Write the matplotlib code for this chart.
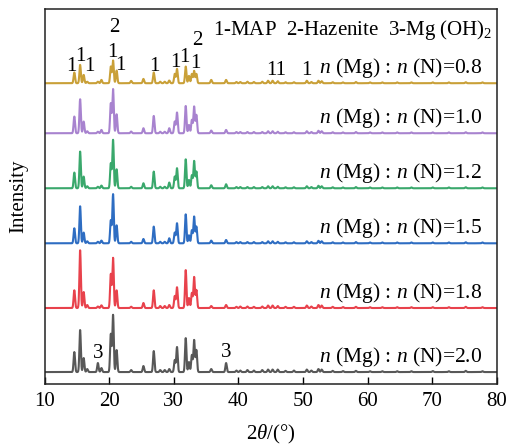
import numpy as np
import matplotlib
matplotlib.use("Agg")
import matplotlib.pyplot as plt

plt.rcParams["font.family"] = ["Liberation Serif", "DejaVu Serif"]
plt.rcParams["mathtext.fontset"] = "custom"
plt.rcParams["mathtext.rm"] = "Liberation Serif"
plt.rcParams["mathtext.it"] = "Liberation Serif:italic"

# peak positions (2theta, deg)
peak_pos = [14.6, 15.5, 16.05, 16.6, 18.25, 18.8, 20.25, 20.6, 21.15, 23.4,
            25.3, 26.9, 27.9, 28.6, 29.3, 30.15, 30.5, 31.85, 32.35, 32.8,
            33.15, 33.5, 35.8, 38.1,
            39.7, 40.3, 41.4, 42.4, 43.7, 44.6, 45.3, 46.1, 47.3, 48.6,
            50.6, 51.3, 52.4, 52.9, 54.6, 56.2, 58.2, 60.4, 62.3, 64.6,
            66.8, 70.1, 72.6, 75.2, 77.8]

ratios = ["0.8", "1.0", "1.2", "1.5", "1.8", "2.0"]

h_08 = [10.7, 18.3, 8.3, 1.5, 1.5, 3.3, 16.7, 22.7, 12.7, 2.3,
        4.3, 10.7, 1.5, 1.5, 2.7, 9.3, 14.3, 16.7, 7.3, 9.3,
        12.3, 9.3, 3.3, 3.3,
        1.2, 1.2, 1.5, 1.2, 1.5, 2.5, 2.5, 2, 1, 1,
        2.5, 1.2, 2.5, 2, 1, 0.8, 1.2, 0.8, 0.8, 0.8,
        0.8, 0.8, 0.8, 1, 0.8]
h_10 = [16.7, 34, 11.7, 2, 1.5, 3.3, 30, 44, 19, 1.7,
        5, 17.3, 1.5, 1.5, 5, 11.7, 20.7, 27.3, 8.3, 13.3,
        26.7, 18.3, 2.7, 3.3,
        1.2, 1.2, 1.2, 1.2, 1.2, 2, 2, 1.5, 1, 1,
        2, 1.2, 2.5, 2, 1, 0.8, 1.2, 0.8, 0.8, 0.8,
        0.8, 0.8, 0.8, 1, 0.8]
h_12 = [15.7, 36.7, 11.7, 2, 1.5, 2.7, 25, 48.3, 19, 1.5,
        5, 16.7, 1.5, 1.5, 5.7, 11.7, 20, 29, 8.3, 13,
        27.3, 16.7, 3, 4,
        1.2, 1.2, 1.2, 1.2, 1.2, 2, 2, 1.5, 1, 1,
        2, 1.2, 2.5, 2, 1, 0.8, 1.2, 0.8, 0.8, 0.8,
        0.8, 0.8, 0.8, 1, 0.8]
h_15 = [15, 37, 10.7, 2, 1.5, 2.7, 23, 49, 18, 1.5,
        4.3, 16.7, 1.5, 1.5, 5, 10.7, 20, 29, 8, 13,
        26.7, 16.7, 2.7, 3.3,
        1.2, 1.2, 1.2, 1.2, 1.2, 2, 2, 1.5, 1, 1,
        2, 1.2, 2.5, 2, 1, 0.8, 1.2, 0.8, 0.8, 0.8,
        0.8, 0.8, 0.8, 1, 0.8]
h_18 = [17.7, 57.7, 16, 3, 1.5, 2.7, 34, 50, 17.7, 1.3,
        5, 17.7, 2, 2, 3, 12, 20.7, 38, 10, 15,
        31, 18, 2, 3,
        1.2, 1.5, 1.5, 1.2, 1.5, 2.5, 2.5, 2, 1.2, 1.2,
        2.5, 1.5, 3, 2.5, 1.2, 1, 1.2, 0.8, 0.8, 0.8,
        0.8, 0.8, 0.8, 1.2, 0.8]
h_20 = [20, 42, 14, 3, 9, 4, 38, 57, 22, 2,
        6, 21, 2, 2, 3, 12, 25, 34, 10, 17,
        32, 22, 3, 9,
        1.5, 1.5, 2, 1.5, 2, 2.5, 2.5, 2.5, 1.2, 1.5,
        2.5, 1.5, 3, 2.5, 1.2, 1, 1.2, 0.8, 0.8, 0.8,
        0.8, 1, 0.8, 1.2, 0.8]
heights = [h_08, h_10, h_12, h_15, h_18, h_20]

colors = ["#c9a038", "#a883cf", "#3aa86c", "#2e6dc2", "#e8424c", "#585858"]
offsets = [300.7, 250.7, 195.7, 140.7, 76, 12]

# phase labels on the top pattern and on the bottom one
top_labels = [("1", 14.1, 313), ("1", 15.5, 323), ("1", 16.95, 313),
              ("1", 20.55, 327), ("2", 20.75, 352), ("1", 21.8, 314),
              ("1", 27.0, 313), ("1", 30.3, 317), ("1", 31.7, 322),
              ("1", 33.3, 316), ("2", 33.6, 339), ("11", 45.8, 309),
              ("1", 50.5, 309)]
bottom_labels = [("3", 18.25, 26), ("3", 38.1, 27)]

x = np.arange(10, 80.01, 0.02)
pos = np.array(peak_pos)

fig = plt.figure(figsize=(5.08, 4.44), dpi=100)
ax = fig.add_axes([0.0878, 0.135, 0.890, 0.845])

for h, c, off, r in zip(heights, colors, offsets, ratios):
    h = np.array(h)
    y = (h[None, :] * np.exp(-0.5 * ((x[:, None] - pos[None, :]) / 0.11) ** 2)).sum(axis=1)
    ax.plot(x, y + off, color=c, lw=1.5)
    ax.text(77.7, off + 10, "$n$ (Mg) : $n$ (N)=" + r, fontsize=15.5,
            ha="right", va="baseline")

for s, px, py in top_labels + bottom_labels:
    ax.text(px, py, s, fontsize=15, ha="center", va="baseline")

ax.text(79.4, 349, "1-MAP  2-Hazenite  3-Mg (OH)$_2$", fontsize=15,
        ha="right", va="baseline")

ax.set_xlim(10, 80)
ax.set_ylim(0, 375)
ax.set_xticks(np.arange(10, 81, 10))
ax.set_yticks([])
ax.tick_params(axis="x", direction="in", length=5, width=1, labelsize=15, pad=6)
for sp in ax.spines.values():
    sp.set_linewidth(1.1)
    sp.set_color("#222222")
ax.set_xlabel(r"2$\theta$/(°)", fontsize=15, labelpad=8)
ax.set_ylabel("Intensity", fontsize=15, labelpad=12)

fig.savefig("out.png", dpi=100)
